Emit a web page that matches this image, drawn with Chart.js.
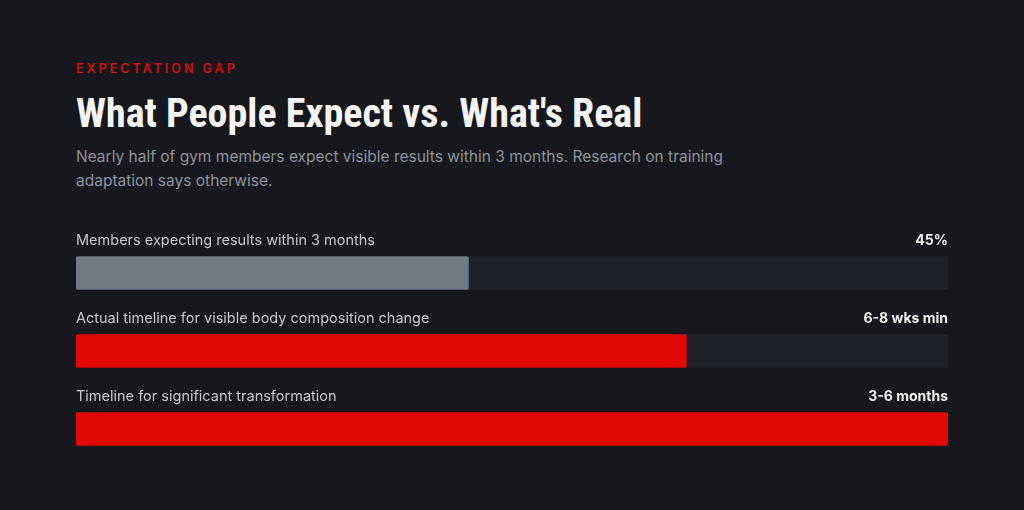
<!DOCTYPE html>
<html><head><meta charset="utf-8">
<script src="https://cdn.jsdelivr.net/npm/chart.js@4"></script>
<style>
html,body{margin:0;padding:0;background:#16181d;width:1024px;height:510px;overflow:hidden;font-family:Inter,"Noto Sans",sans-serif}
#eyebrow{position:absolute;left:76px;top:61px;color:#d40d0d;font-size:12.5px;font-weight:600;letter-spacing:3px}
#title{position:absolute;left:76px;top:90px;color:#f4f4f4;font-family:"Liberation Sans Narrow","Roboto Condensed",sans-serif;font-weight:700;font-size:40px;letter-spacing:0px}
#sub{position:absolute;left:76px;top:145px;width:700px;color:#8e939c;font-size:15.5px;line-height:24px}
#wrap{position:absolute;left:0;top:222px;width:1024px;height:260px}
</style></head><body>
<div id="eyebrow">EXPECTATION GAP</div>
<div id="title">What People Expect vs. What's Real</div>
<div id="sub">Nearly half of gym members expect visible results within 3 months. Research on training adaptation says otherwise.</div>
<div id="wrap"><canvas id="c"></canvas></div>
<script>
const categories=["Members expecting results within 3 months","Actual timeline for visible body composition change","Timeline for significant transformation"];
const values=[45,70,100];
const valueLabels=["45%","6-8 wks min","3-6 months"];
const barColors=["#6f7a85","#e00800","#e00800"];
const track=[100,100,100];
const labelPlugin={id:'lbl',afterDatasetsDraw(ch){
 const ctx=ch.ctx;const meta=ch.getDatasetMeta(1);const a=ch.chartArea;
 meta.data.forEach((b,i)=>{
  const y=b.y-b.height/2-12;
  ctx.save();ctx.textBaseline='alphabetic';
  ctx.font='400 14.5px Inter, sans-serif';ctx.fillStyle='#c4c7cc';ctx.textAlign='left';
  ctx.fillText(categories[i],a.left,y);
  ctx.font='700 14px Inter, sans-serif';ctx.fillStyle='#f0f0f0';ctx.textAlign='right';
  ctx.fillText(valueLabels[i],a.right,y);
  ctx.restore();});
}};
new Chart(document.getElementById('c'),{type:'bar',
 data:{labels:categories,datasets:[
  {data:track,backgroundColor:'#1f2228',grouped:false,order:2,barThickness:33},
  {data:values,backgroundColor:barColors,grouped:false,order:1,barThickness:33,borderRadius:2,borderSkipped:false}]},
 options:{indexAxis:'y',responsive:true,maintainAspectRatio:false,animation:false,
  layout:{padding:{left:76,right:76,top:12,bottom:14}},
  plugins:{legend:{display:false},tooltip:{enabled:false}},
  scales:{x:{display:false,min:0,max:100},y:{display:false}}},
 plugins:[labelPlugin]});
</script></body></html>
